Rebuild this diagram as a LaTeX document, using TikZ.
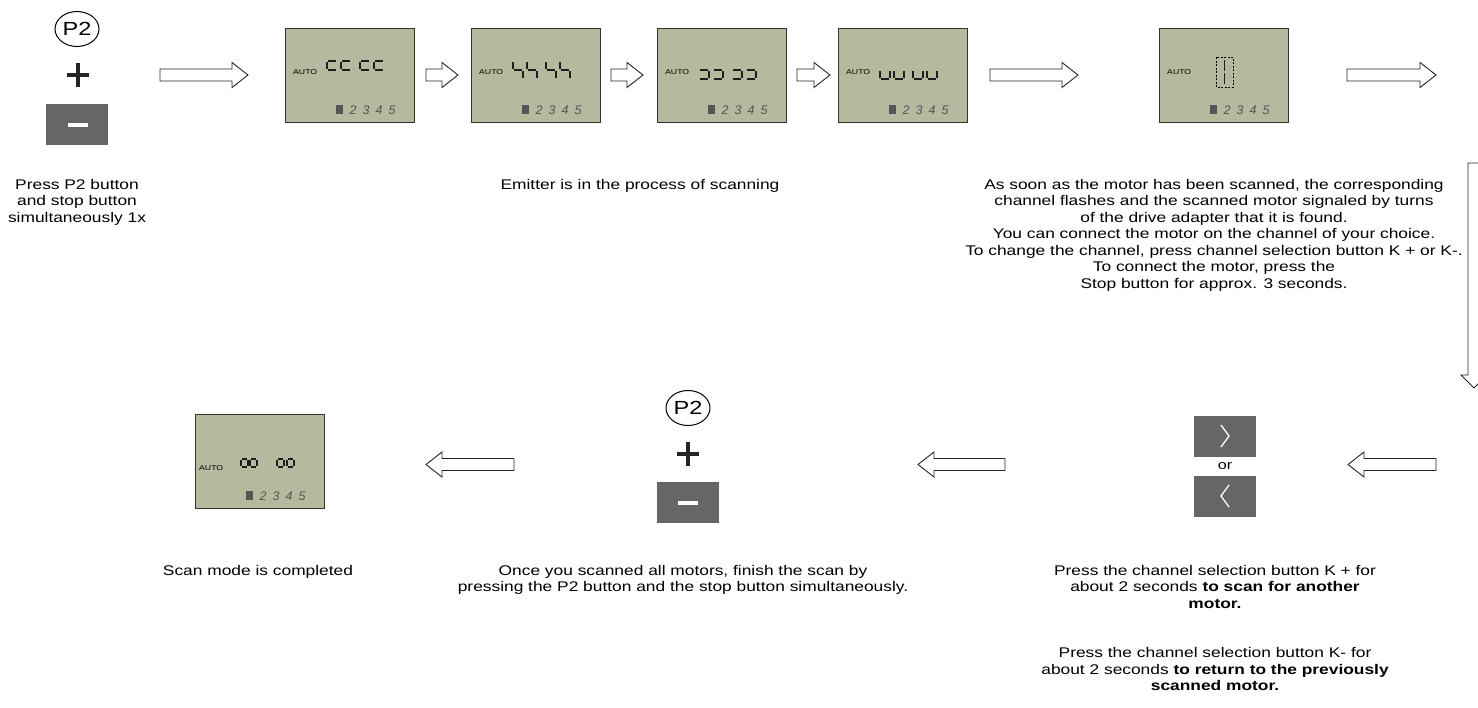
\documentclass[tikz,border=0pt]{standalone}
\usepackage{fontspec}
\usetikzlibrary{shapes.geometric}
\setmainfont{Liberation Sans}[FakeStretch=1.24]
\newfontfamily\idxfont{Liberation Sans}

\definecolor{lcdfill}{HTML}{B5B99E}
\definecolor{keygray}{HTML}{666666}
\definecolor{seggray}{HTML}{1E1E1E}
\definecolor{idxgray}{HTML}{555555}

\tikzset{
  lcd/.style={draw=black!80, line width=1pt, fill=lcdfill, minimum width=129pt,
    minimum height=94pt, inner sep=0pt, anchor=north west},
  autolbl/.style={anchor=west, inner sep=0pt, font=\fontsize{7}{8}\selectfont},
  idxdigit/.style={anchor=base, inner sep=0pt, text=idxgray,
    font=\idxfont\itshape\fontsize{12.5}{13}\selectfont},
  segline/.style={line width=1.8pt, draw=seggray},
  hollow/.style={draw=black!85, line width=0.9pt, fill=white, line join=miter},
  keybtn/.style={fill=keygray, minimum width=62pt, minimum height=41pt, inner sep=0pt},
  p2circ/.style={draw, ellipse, line width=1pt, minimum width=44pt, minimum height=35pt,
    inner sep=0pt, font=\fontsize{19}{19}\selectfont},
  plusline/.style={line width=3.6pt, draw=black!85},
  body/.style={align=center, inner sep=0pt, anchor=north,
    font=\fontsize{14}{16.5}\selectfont},
}

% seven-segment pieces: box top-left (#1,#2), width #3, height #4
\newcommand\lcdsega[4]{\draw[segline] ({#1+1},{#2}) -- ({#1+#3-1},{#2});}
\newcommand\lcdsegb[4]{\draw[segline] ({#1+#3},{#2+1}) -- ({#1+#3},{#2+#4/2-1});}
\newcommand\lcdsegc[4]{\draw[segline] ({#1+#3},{#2+#4/2+1}) -- ({#1+#3},{#2+#4-1});}
\newcommand\lcdsegd[4]{\draw[segline] ({#1+1},{#2+#4}) -- ({#1+#3-1},{#2+#4});}
\newcommand\lcdsege[4]{\draw[segline] ({#1},{#2+#4/2+1}) -- ({#1},{#2+#4-1});}
\newcommand\lcdsegf[4]{\draw[segline] ({#1},{#2+1}) -- ({#1},{#2+#4/2-1});}
\newcommand\lcdsegg[4]{\draw[segline] ({#1+1},{#2+#4/2}) -- ({#1+#3-1},{#2+#4/2});}
\newcommand\lcdchar[5]{\foreach \s in {#5}{\csname lcdseg\s\endcsname{#1}{#2}{#3}{#4}}}

% display panel: name, left, top, AUTO position
\newcommand\lcdpanel[4]{%
  \node[lcd] (#1) at (#2,#3) {};
  \begin{scope}[shift={(#2,#3)}]
    \node[autolbl] (#1-auto) at (#4) {AUTO};
    \fill[idxgray] (51,77) rectangle (58,86);
    \foreach \d/\px in {2/68,3/81,4/94,5/107}
      \node[idxdigit] (#1-ch\d) at (\px,86) {\d};
  \end{scope}}

% block arrows
\newcommand\arrowR[3]{% from x #1 to tip x #2 at height #3
  \draw[hollow] (#1,{#3-6}) -- ({#2-16},{#3-6}) -- ({#2-16},{#3-12.5}) -- (#2,#3)
    -- ({#2-16},{#3+12.5}) -- ({#2-16},{#3+6}) -- (#1,{#3+6}) -- cycle;}
\newcommand\arrowL[3]{% from x #1 to tip x #2 (left of #1) at height #3
  \draw[hollow] (#1,{#3-6}) -- ({#2+16},{#3-6}) -- ({#2+16},{#3-12.5}) -- (#2,#3)
    -- ({#2+16},{#3+12.5}) -- ({#2+16},{#3+6}) -- (#1,{#3+6}) -- cycle;}

\begin{document}
\begin{tikzpicture}[x=1pt,y=-1pt]
\useasboundingbox (0,0) rectangle (1478,707);
\fill[white] (0,0) rectangle (1478,707);

% ---- start: P2 + stop
\node[p2circ] (p2a) at (77,29) {P2};
\draw[plusline] (67,75) -- (89,75);
\draw[plusline] (78,63) -- (78,87);
\node[keybtn] (stopa) at (77,124.5) {};
\fill[white] (68,123) rectangle (88,127);
\node[body] (t-start) at (77,179) {Press P2 button\\and stop button\\simultaneously 1x};

% ---- scanning sequence
\arrowR{160}{248}{75}

\lcdpanel{s1}{285}{28}{8,44}
\begin{scope}[shift={(285,28)}]
  \foreach \cx in {42,56,75,89} {\lcdchar{\cx}{33}{10}{18}{a,f,g}}
\end{scope}
\arrowR{426}{458}{75}

\lcdpanel{s2}{471}{28}{8,44}
\begin{scope}[shift={(471,28)}]
  \foreach \cx in {42,56,75,89} {\lcdchar{\cx}{33}{10}{18}{f,g,c}}
\end{scope}
\arrowR{611}{643}{75}

\lcdpanel{s3}{657}{28}{8,44}
\begin{scope}[shift={(657,28)}]
  \foreach \cx in {42,56,75,89} {\lcdchar{\cx}{33}{10}{18}{g,c,d}}
\end{scope}
\arrowR{797}{830}{75}

\lcdpanel{s4}{838}{28}{8,44}
\begin{scope}[shift={(838,28)}]
  \foreach \cx in {42,56,75,89} {\lcdchar{\cx}{33}{10}{18}{e,d,c}}
\end{scope}
\node[body] (t-scan) at (640,179) {Emitter is in the process of scanning};
\arrowR{990}{1078}{75}

\lcdpanel{s5}{1159}{28}{8,44}
\begin{scope}[shift={(1159,28)}]
  \draw[line width=1pt, dash pattern=on 2pt off 1.5pt] (57,29) rectangle (74,59);
  \draw[segline] (65.5,32) -- (65.5,43);
  \draw[segline] (65.5,45) -- (65.5,56);
\end{scope}
\arrowR{1347}{1436}{75}
\node[body] (t-found) at (1214,179) {As soon as the motor has been scanned, the corresponding\\
channel flashes and the scanned motor signaled by turns\\
of the drive adapter that it is found.\\
You can connect the motor on the channel of your choice.\\
To change the channel, press channel selection button K + or K-.\\
To connect the motor, press the\\
Stop button for approx. 3 seconds.};

% ---- turn down the right edge
\begin{scope}
  \clip (0,0) rectangle (1478,707);
  \draw[hollow] (1468,163) -- (1480,163) -- (1480,375) -- (1487,375) -- (1474,388)
    -- (1461,375) -- (1468,375) -- cycle;
\end{scope}

% ---- channel selection keys
\arrowL{1436}{1348}{464.5}
\node[keybtn] (kplus) at (1225,436.5) {};
\draw[white, line width=1.3pt] (1221,425) -- (1229,436) -- (1221,447);
\node[inner sep=0pt, font=\fontsize{13}{13}\selectfont] (kor) at (1225,466) {or};
\node[keybtn] (kminus) at (1225,496.5) {};
\draw[white, line width=1.3pt] (1229,485) -- (1221,496) -- (1229,507);
\node[body] (t-keys) at (1215,565) {Press the channel selection button K + for\\
about 2 seconds \textbf{to scan for another}\\
\textbf{motor.}\\[33pt]
Press the channel selection button K- for\\
about 2 seconds \textbf{to return to the previously}\\
\textbf{scanned motor.}};

% ---- finish: P2 + stop again
\arrowL{1005}{918}{464.5}
\node[p2circ] (p2b) at (688,408) {P2};
\draw[plusline] (677,454) -- (699,454);
\draw[plusline] (688,442) -- (688,466);
\node[keybtn] (stopb) at (687.5,502.5) {};
\fill[white] (678,501) rectangle (698,505);
\node[body] (t-finish) at (683,565) {Once you scanned all motors, finish the scan by\\
pressing the P2 button and the stop button simultaneously.};

% ---- completed display
\arrowL{514}{426}{464.5}
\lcdpanel{s6}{195}{414}{4,54}
\begin{scope}[shift={(195,414)}]
  \foreach \cx in {46,55,82,92} {\lcdchar{\cx}{37}{7}{16}{g,c,d,e}}
\end{scope}
\node[body] (t-done) at (258,565) {Scan mode is completed};
\end{tikzpicture}
\end{document}
